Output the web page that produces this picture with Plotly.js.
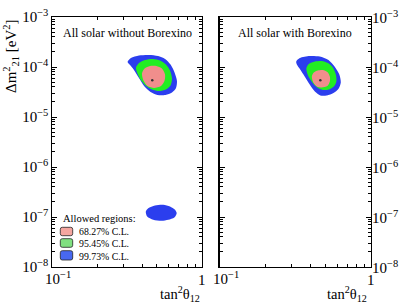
<!DOCTYPE html>
<html><head><meta charset="utf-8">
<script src="https://cdn.plot.ly/plotly-3.0.1.min.js"></script>
<style>html,body{margin:0;padding:0;background:#fff}#chart{width:399px;height:305px}</style>
</head><body><div id="chart"></div>
<script>
// ---- data (tan^2 theta12, Delta m^2_21 [eV^2]) ----
// Panel 1: All solar without Borexino
const woB_blue_tan2 = [0.319,0.336,0.380,0.443,0.509,0.567,0.617,0.656,0.681,0.671,0.631,0.571,0.505,0.454,0.411,0.380,0.352,0.329];
const woB_blue_dm2  = [1.26e-4,1.51e-4,1.70e-4,1.74e-4,1.66e-4,1.45e-4,1.12e-4,7.76e-5,5.25e-5,3.80e-5,3.09e-5,2.75e-5,2.75e-5,3.16e-5,4.17e-5,6.03e-5,8.71e-5,1.12e-4];
const woB_green_tan2 = [0.363,0.380,0.417,0.471,0.525,0.575,0.612,0.631,0.617,0.575,0.517,0.464,0.420,0.389,0.369];
const woB_green_dm2  = [9.77e-5,1.20e-4,1.38e-4,1.45e-4,1.35e-4,1.12e-4,8.51e-5,5.89e-5,4.27e-5,3.55e-5,3.31e-5,3.55e-5,4.27e-5,5.62e-5,7.76e-5];
const woB_pink_tan2 = [0.398,0.414,0.450,0.497,0.541,0.567,0.562,0.533,0.479,0.433,0.407];
const woB_pink_dm2  = [7.41e-5,9.33e-5,1.05e-4,1.05e-4,9.33e-5,7.08e-5,5.25e-5,4.17e-5,3.80e-5,4.17e-5,5.37e-5];
const woB_low_tan2 = [0.422,0.438,0.486,0.552,0.612,0.661,0.678,0.654,0.596,0.538,0.473,0.431];
const woB_low_dm2  = [1.29e-7,1.50e-7,1.70e-7,1.75e-7,1.62e-7,1.39e-7,1.19e-7,9.77e-8,8.79e-8,8.39e-8,8.79e-8,1.02e-7];
const woB_best = [0.466, 5.44e-5];
// Panel 2: All solar with Borexino
const wB_blue_tan2 = [0.321,0.339,0.394,0.459,0.524,0.578,0.618,0.632,0.609,0.565,0.512,0.463,0.426,0.394,0.365,0.341,0.324];
const wB_blue_dm2  = [1.29e-4,1.51e-4,1.66e-4,1.62e-4,1.38e-4,1.00e-4,7.08e-5,4.90e-5,3.63e-5,3.02e-5,2.69e-5,2.69e-5,3.24e-5,4.47e-5,6.46e-5,8.91e-5,1.12e-4];
const wB_green_tan2 = [0.374,0.388,0.426,0.473,0.519,0.560,0.586,0.591,0.569,0.527,0.481,0.442,0.410,0.385];
const wB_green_dm2  = [9.33e-5,1.15e-4,1.29e-4,1.32e-4,1.20e-4,9.77e-5,7.08e-5,5.13e-5,4.07e-5,3.55e-5,3.47e-5,3.89e-5,4.90e-5,6.61e-5];
const wB_pink_tan2 = [0.407,0.419,0.446,0.481,0.515,0.535,0.535,0.515,0.473,0.439,0.416];
const wB_pink_dm2  = [6.46e-5,7.76e-5,8.51e-5,8.71e-5,7.94e-5,6.46e-5,5.13e-5,4.17e-5,3.89e-5,4.07e-5,4.90e-5];
const wB_best = [0.463, 5.44e-5];

const panelTitles = ["All solar without Borexino", "All solar with Borexino"];
const legendTitle = "Allowed regions:";
const legendLabels = ["68.27% C.L.", "95.45% C.L.", "99.73% C.L."];
// tick labels (log10 exponents)
const xTickExp = [-1, 0];
const xTickText = ["10<sup>−1</sup>", "1"];
const yTickExp = [-3, -4, -5, -6, -7, -8];
const yTickText = ["10<sup>−3</sup>", "10<sup>−4</sup>", "10<sup>−5</sup>", "10<sup>−6</sup>", "10<sup>−7</sup>", "10<sup>−8</sup>"];

// ---- styling ----
const FONT = "Liberation Serif, Times New Roman, serif";
const C_BLUE = "#2b3eee", C_GREEN = "#22ee22", C_PINK = "#f08e8c";
const SW = ["#f5a6a0", "#80e080", "#4868f0"];

function closeArr(a){ return a.concat([a[0]]); }
function region(x, y, color, xa, ya){
  return {type:"scatter", mode:"lines", x:closeArr(x), y:closeArr(y), fill:"toself",
    fillcolor:color, line:{width:0, color:color, shape:"spline", smoothing:0.75},
    xaxis:xa, yaxis:ya, hoverinfo:"skip", showlegend:false};
}
function best(p, xa, ya){
  return {type:"scatter", mode:"markers", x:[p[0]], y:[p[1]], marker:{size:2.5, color:"#333"},
    xaxis:xa, yaxis:ya, hoverinfo:"skip", showlegend:false};
}

const traces = [
  region(woB_blue_tan2, woB_blue_dm2, C_BLUE, "x", "y"),
  region(woB_low_tan2, woB_low_dm2, C_BLUE, "x", "y"),
  region(woB_green_tan2, woB_green_dm2, C_GREEN, "x", "y"),
  region(woB_pink_tan2, woB_pink_dm2, C_PINK, "x", "y"),
  best(woB_best, "x", "y"),
  region(wB_blue_tan2, wB_blue_dm2, C_BLUE, "x2", "y2"),
  region(wB_green_tan2, wB_green_dm2, C_GREEN, "x2", "y2"),
  region(wB_pink_tan2, wB_pink_dm2, C_PINK, "x2", "y2"),
  best(wB_best, "x2", "y2")
];

const minor = {ticks:"inside", ticklen:3, tickcolor:"#000", tickwidth:1, dtick:"D1", showgrid:false};
const TICKFONT = {family:FONT, size:12, color:"#000"};
function xax(domain, anchor){
  return {type:"log", range:[-1,0], domain:domain, anchor:anchor, dtick:1, exponentformat:"power",
    showline:true, linecolor:"#000", linewidth:1.3, mirror:"allticks", ticks:"inside", ticklen:5,
    tickcolor:"#000", tickwidth:1, showgrid:false, zeroline:false, minor:minor, showticklabels:false};
}
function yax(anchor, side, labels){
  return {type:"log", range:[-8,-3], domain:[0,1], anchor:anchor, side:side, dtick:1, exponentformat:"power",
    showline:true, linecolor:"#000", linewidth:1.3, mirror:"allticks", ticks:"inside", ticklen:5,
    tickcolor:"#000", tickwidth:1, showgrid:false, zeroline:false, minor:minor, tickfont:TICKFONT,
    showticklabels:labels};
}

const W = 319, H = 250, L = 52, T = 17;
const px = v => (v - L) / W;
const py = v => (T + H - v) / H;

const ann = [
  {text:panelTitles[0], x:px(127.5), y:py(32.5)},
  {text:panelTitles[1], x:px(295), y:py(33.3)},
].map(a => Object.assign(a, {xref:"paper", yref:"paper", showarrow:false, xanchor:"center", yanchor:"middle",
  font:{family:FONT, size:12, color:"#000"}}));

ann.push({text:"Δm<sup>2</sup><sub>21</sub> [eV<sup>2</sup>]", textangle:-90, x:px(11), y:py(56),
  xref:"paper", yref:"paper", showarrow:false, xanchor:"center", yanchor:"middle",
  font:{family:FONT, size:15, color:"#000"}});
[180, 347].forEach(cx => ann.push({text:"tan<sup>2</sup>θ<sub>12</sub>", x:px(cx), y:py(294),
  xref:"paper", yref:"paper", showarrow:false, xanchor:"center", yanchor:"middle",
  font:{family:FONT, size:14.5, color:"#000"}}));
ann.push({text:legendTitle, x:px(61), y:py(218.3), xref:"paper", yref:"paper", showarrow:false,
  xanchor:"left", yanchor:"middle", font:{family:FONT, size:10.5, color:"#000"}});
const legY = [231, 243.3, 256];
legendLabels.forEach((t,i) => ann.push({text:t, x:px(76.5), y:py(legY[i]), xref:"paper", yref:"paper",
  showarrow:false, xanchor:"left", yanchor:"middle", font:{family:FONT, size:9.8, color:"#000"}}));

// x tick labels for both panels (placed on the axis scale)
["x", "x2"].forEach(xr => {
  xTickExp.forEach((e,i) => ann.push({text:xTickText[i], xref:xr, x:e, yref:"paper", y:py(i === 0 ? 278 : 280),
    showarrow:false, xanchor: i === 0 ? "left" : "center", xshift: i === 0 ? -9 : 0, yanchor:"middle",
    font:{family:FONT, size:15, color:"#000"}}));
});
// right-panel y tick labels on the right side
yTickExp.forEach((e,i) => ann.push({text:yTickText[i], xref:"paper", x:px(370), yref:"y2", y:e,
  showarrow:false, xanchor:"left", yanchor:"middle", font:{family:FONT, size:15, color:"#000"}}));

const shapes = [];
const swY = [[227.3,235.7],[238.7,247.3],[250.7,260]];
swY.forEach((r,i) => {
  const x0 = px(60.3), x1 = px(72.7), y0 = py(r[1]), y1 = py(r[0]);
  const rx = 2/W, ry = 2/H;
  const path = `M ${x0+rx} ${y0} L ${x1-rx} ${y0} Q ${x1} ${y0} ${x1} ${y0+ry} L ${x1} ${y1-ry} Q ${x1} ${y1} ${x1-rx} ${y1} L ${x0+rx} ${y1} Q ${x0} ${y1} ${x0} ${y1-ry} L ${x0} ${y0+ry} Q ${x0} ${y0} ${x0+rx} ${y0} Z`;
  shapes.push({type:"path", xref:"paper", yref:"paper", path:path, fillcolor:SW[i], line:{color:"#222", width:0.8}});
});

const layout = {
  width:399, height:305, margin:{l:L, r:399-L-W, t:T, b:305-T-H},
  paper_bgcolor:"#fff", plot_bgcolor:"#fff", showlegend:false,
  xaxis: xax([0, 150/W], "y"),
  yaxis: yax("x", "left", true),
  xaxis2: xax([167.5/W, 1], "y2"),
  yaxis2: yax("x2", "right", false),
  annotations: ann, shapes: shapes,
  font:{family:FONT, color:"#000"}
};

Plotly.newPlot("chart", traces, layout, {staticPlot:true, displayModeBar:false});
</script>
</body></html>
